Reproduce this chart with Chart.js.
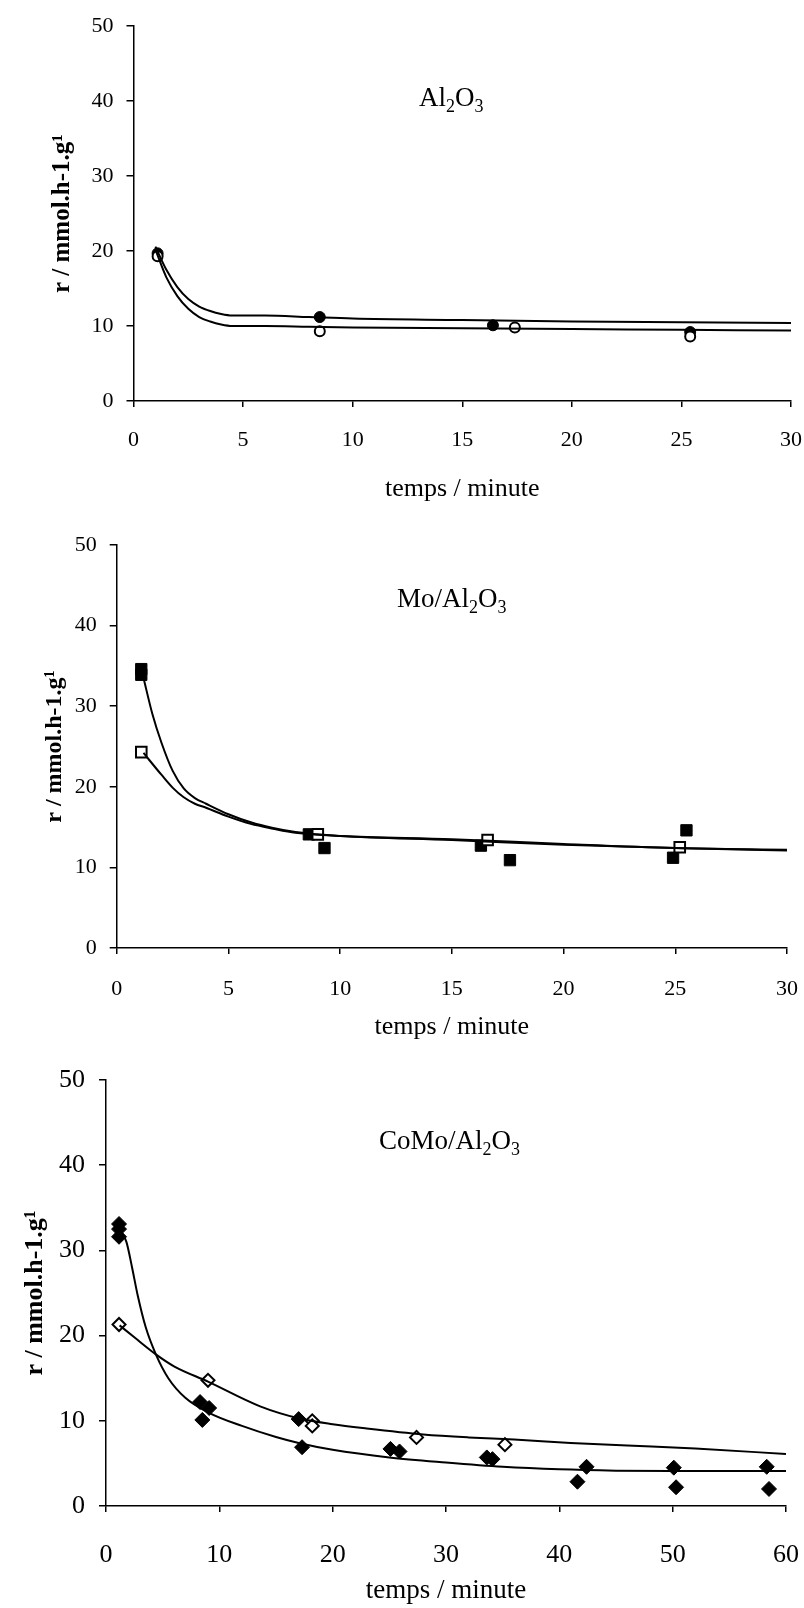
<!DOCTYPE html>
<html lang="fr">
<head>
<meta charset="utf-8">
<title>r en fonction du temps</title>
<script src="https://cdn.jsdelivr.net/npm/chart.js@4/dist/chart.umd.min.js"></script>
<style>
    html, body { margin: 0; padding: 0; background: #fff; }
    #wrapper { position: relative; width: 804px; height: 1608px; }
    canvas { position: absolute; left: 0; }
</style>
</head>
<body>
<div id="wrapper">
    <canvas id="canvas1" width="804" height="505" style="top:0px"></canvas>
    <canvas id="canvas2" width="804" height="545" style="top:505px"></canvas>
    <canvas id="canvas3" width="804" height="558" style="top:1050px"></canvas>
</div>
<script>
"use strict"

// --- Al2O3 : ronds pleins / ronds vides ---
const alTempsPleins = [1.1, 8.5, 16.4, 25.4];
const alRPleins = [19.7, 11.2, 10.1, 9.2];
const alTempsVides = [1.1, 8.5, 17.4, 25.4];
const alRVides = [19.3, 9.3, 9.8, 8.6];
const alCourbeTemps = [1, 1.5, 2, 2.5, 3, 3.5, 4, 4.5, 6, 8, 10, 15, 20, 25, 30];
const alCourbeHaute = [20.6, 17.5, 15.2, 13.6, 12.6, 12.0, 11.6, 11.4, 11.4, 11.2, 11.0, 10.8, 10.6, 10.5, 10.4];
const alCourbeBasse = [20.2, 16.5, 14.0, 12.3, 11.2, 10.6, 10.2, 10.0, 10.0, 9.9, 9.8, 9.7, 9.6, 9.5, 9.4];

// --- Mo/Al2O3 : carres pleins / carres vides ---
const moTempsPleins = [1.1, 1.1, 8.6, 9.3, 16.3, 17.6, 24.9, 25.5];
const moRPleins = [34.6, 33.9, 14.1, 12.4, 12.7, 10.9, 11.2, 14.6];
const moTempsVides = [1.1, 9.0, 16.6, 25.2];
const moRVides = [24.3, 14.1, 13.4, 12.5];
const moCourbePleinsTemps = [1.2, 1.6, 2, 2.5, 3, 3.5, 4, 5, 6, 7, 8, 10, 15, 20, 25, 30];
const moCourbePleins = [33.5, 29, 25.5, 22, 19.8, 18.6, 17.9, 16.6, 15.6, 14.9, 14.4, 13.9, 13.4, 12.8, 12.4, 12.1];
const moCourbeVidesTemps = [1.2, 2, 2.5, 3, 3.5, 4, 5, 6, 7, 8, 10, 15, 20, 25, 30];
const moCourbeVides = [24.2, 21.5, 19.9, 18.7, 17.9, 17.4, 16.3, 15.4, 14.8, 14.3, 13.9, 13.5, 12.9, 12.4, 12.2];

// --- CoMo/Al2O3 : losanges pleins / losanges vides ---
const comoTempsPleins = [1.15, 1.15, 1.15, 8.3, 8.5, 9.1, 17.0, 17.3, 25.1, 25.9, 33.6, 34.1, 41.6, 42.4, 50.1, 50.3, 58.3, 58.5];
const comoRPleins = [33.1, 32.5, 31.6, 12.2, 10.1, 11.5, 10.2, 6.9, 6.7, 6.4, 5.7, 5.5, 2.85, 4.6, 4.5, 2.2, 4.6, 2.0];
const comoTempsVides = [1.15, 9.0, 18.2, 18.2, 27.4, 35.2];
const comoRVides = [21.3, 14.75, 10.0, 9.4, 8.05, 7.2];
const comoCourbePleinsTemps = [1.2, 1.8, 2.3, 2.8, 3.5, 4.4, 5.5, 7, 9, 12, 15, 17, 20, 25, 30, 35, 40, 45, 50, 60];
const comoCourbePleins = [32.5, 31, 28, 24.7, 21, 17.8, 15, 12.7, 11, 9.4, 8.1, 7.4, 6.6, 5.7, 5.1, 4.6, 4.3, 4.15, 4.1, 4.1];
const comoCourbeVidesTemps = [1.2, 2.5, 4.4, 6, 9, 13.6, 17, 20, 23, 28, 32, 36, 41, 46, 52, 60];
const comoCourbeVides = [21.2, 19.8, 17.8, 16.4, 14.6, 11.7, 10.3, 9.6, 9.1, 8.4, 8.05, 7.8, 7.4, 7.1, 6.75, 6.1];

const titreX = "temps / minute";
const titreY = "r / mmol.h-1.g\u00B9";
const police = "'Liberation Serif', 'Times New Roman', serif";

// couples (x, y) pour chart.js
function points(xs, ys) {
    return xs.map((x, i) => ({ x: x, y: ys[i] }));
}

function courbe(xs, ys) {
    return {
        data: points(xs, ys),
        showLine: true,
        borderColor: "#000",
        borderWidth: 2,
        pointRadius: 0,
        cubicInterpolationMode: "monotone"
    };
}

function marqueurs(xs, ys, style, rayon, plein) {
    return {
        data: points(xs, ys),
        showLine: false,
        pointStyle: style,
        pointRadius: rayon,
        pointBackgroundColor: plein ? "#000" : "#fff",
        pointBorderColor: "#000",
        pointBorderWidth: plein ? 1 : 2
    };
}

// etiquette du catalyseur, "_" = indice
const etiquettePlugin = {
    id: "etiquette",
    afterDatasetsDraw(chart, args, opts) {
        if (!opts.texte) return;
        let ctx = chart.ctx;
        let px = chart.scales.x.getPixelForValue(opts.x);
        let py = chart.scales.y.getPixelForValue(opts.y);
        let morceaux = [];
        for (let i = 0; i < opts.texte.length; i++) {
            if (opts.texte[i] === "_") {
                morceaux.push({ t: opts.texte[i + 1], indice: true });
                i++;
            } else {
                morceaux.push({ t: opts.texte[i], indice: false });
            }
        }
        let grand = opts.taille + "px " + police;
        let petit = Math.round(opts.taille * 0.66) + "px " + police;
        ctx.save();
        ctx.fillStyle = "#000";
        ctx.textBaseline = "alphabetic";
        ctx.textAlign = "left";
        let total = 0;
        morceaux.forEach(m => {
            ctx.font = m.indice ? petit : grand;
            m.w = ctx.measureText(m.t).width;
            total += m.w;
        });
        let x = px - total / 2;
        let base = py + opts.taille * 0.33;
        morceaux.forEach(m => {
            ctx.font = m.indice ? petit : grand;
            ctx.fillText(m.t, x, m.indice ? base + opts.taille * 0.22 : base);
            x += m.w;
        });
        ctx.restore();
    }
};

function options(cfg) {
    return {
        responsive: false,
        animation: false,
        layout: { padding: { top: cfg.haut, right: 804 - cfg.droite, left: 0, bottom: 0 } },
        plugins: {
            legend: { display: false },
            tooltip: { enabled: false },
            etiquette: cfg.etiquette
        },
        scales: {
            x: {
                type: "linear",
                min: 0,
                max: cfg.xMax,
                // hauteur fixe, et le dernier label peut deborder a droite
                afterFit: s => { s.height = cfg.hauteurX; s.paddingRight = 0; s.paddingLeft = 0; },
                ticks: {
                    stepSize: cfg.xPas,
                    color: "#000",
                    padding: cfg.padTicksX,
                    maxRotation: 0,
                    font: { family: police, size: cfg.policeTicks }
                },
                grid: { drawOnChartArea: false, drawTicks: true, tickLength: 6, color: "#000", lineWidth: 1.5 },
                border: { display: true, color: "#000", width: 1.5 },
                title: {
                    display: true,
                    text: titreX,
                    color: "#000",
                    padding: { top: 0, bottom: cfg.padTitreX },
                    font: { family: police, size: cfg.policeTitreX }
                }
            },
            y: {
                min: 0,
                max: 50,
                afterFit: s => { s.width = cfg.gauche; },
                ticks: {
                    stepSize: 10,
                    color: "#000",
                    padding: cfg.padTicksY,
                    font: { family: police, size: cfg.policeTicks }
                },
                grid: { drawOnChartArea: false, drawTicks: true, tickLength: 7, color: "#000", lineWidth: 1.5 },
                border: { display: true, color: "#000", width: 1.5 },
                title: {
                    display: true,
                    text: titreY,
                    color: "#000",
                    padding: { top: cfg.padTitreY, bottom: 0 },
                    font: { family: police, size: cfg.policeTitreY, weight: "bold" }
                }
            }
        }
    };
}

Chart.register(etiquettePlugin);

// Al2O3
new Chart(document.getElementById("canvas1"), {
    type: "scatter",
    data: {
        datasets: [
            courbe(alCourbeTemps, alCourbeHaute),
            courbe(alCourbeTemps, alCourbeBasse),
            marqueurs(alTempsVides, alRVides, "circle", 5, false),
            marqueurs(alTempsPleins, alRPleins, "circle", 5.5, true)
        ]
    },
    options: options({
        haut: 22.7, droite: 791, gauche: 133.5, hauteurX: 104,
        xMax: 30, xPas: 5, policeTicks: 22, padTicksX: 20, padTicksY: 13,
        policeTitreX: 26, padTitreX: 0, policeTitreY: 25, padTitreY: 48,
        etiquette: { texte: "Al_2O_3", x: 14.5, y: 40.6, taille: 27 }
    })
});

// Mo/Al2O3
new Chart(document.getElementById("canvas2"), {
    type: "scatter",
    data: {
        datasets: [
            courbe(moCourbePleinsTemps, moCourbePleins),
            courbe(moCourbeVidesTemps, moCourbeVides),
            marqueurs(moTempsVides, moRVides, "rect", 7.5, false),
            marqueurs(moTempsPleins, moRPleins, "rect", 8, true)
        ]
    },
    options: options({
        haut: 40, droite: 787, gauche: 116.7, hauteurX: 102,
        xMax: 30, xPas: 5, policeTicks: 22, padTicksX: 22, padTicksY: 13,
        policeTitreX: 26, padTitreX: 7.4, policeTitreY: 24, padTitreY: 40,
        etiquette: { texte: "Mo/Al_2O_3", x: 15, y: 43.4, taille: 27 }
    })
});

// CoMo/Al2O3
new Chart(document.getElementById("canvas3"), {
    type: "scatter",
    data: {
        datasets: [
            courbe(comoCourbePleinsTemps, comoCourbePleins),
            courbe(comoCourbeVidesTemps, comoCourbeVides),
            marqueurs(comoTempsVides, comoRVides, "rectRot", 6.5, false),
            marqueurs(comoTempsPleins, comoRPleins, "rectRot", 7.5, true)
        ]
    },
    options: options({
        haut: 30, droite: 786, gauche: 106, hauteurX: 102,
        xMax: 60, xPas: 10, policeTicks: 26, padTicksX: 28, padTicksY: 14,
        policeTitreX: 27, padTitreX: 0.5, policeTitreY: 26, padTitreY: 20,
        etiquette: { texte: "CoMo/Al_2O_3", x: 30.3, y: 42.9, taille: 27 }
    })
});
</script>
</body>
</html>
